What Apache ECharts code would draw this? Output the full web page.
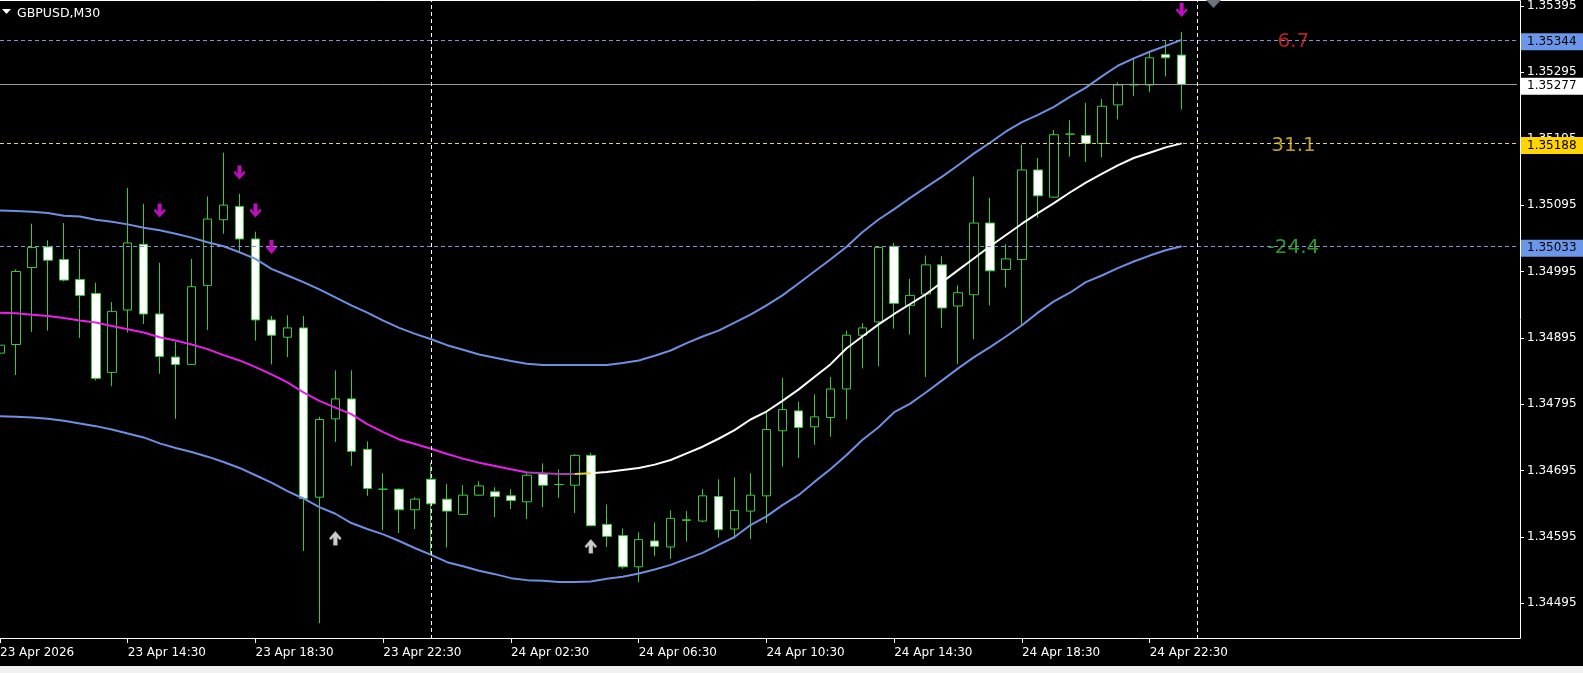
<!DOCTYPE html>
<html>
<head>
<meta charset="utf-8">
<script src="https://cdn.jsdelivr.net/npm/echarts@6/dist/echarts.min.js"></script>
<style>
html,body{margin:0;padding:0;background:#000;overflow:hidden;}
/* the first bar sits 3px left of the window edge, as in the terminal */
#chart{position:absolute;left:-3px;top:0;width:1586px;height:673px;}
</style>
</head>
<body>
<div id="chart"></div>
<script>
// ---- data (GBPUSD, M30) ----
const times = [
'23 Apr 10:30','23 Apr 11:00','23 Apr 11:30','23 Apr 12:00','23 Apr 12:30','23 Apr 13:00','23 Apr 13:30','23 Apr 14:00',
'23 Apr 14:30','23 Apr 15:00','23 Apr 15:30','23 Apr 16:00','23 Apr 16:30','23 Apr 17:00','23 Apr 17:30','23 Apr 18:00',
'23 Apr 18:30','23 Apr 19:00','23 Apr 19:30','23 Apr 20:00','23 Apr 20:30','23 Apr 21:00','23 Apr 21:30','23 Apr 22:00',
'23 Apr 22:30','23 Apr 23:00','23 Apr 23:30','24 Apr 00:00','24 Apr 00:30','24 Apr 01:00','24 Apr 01:30','24 Apr 02:00',
'24 Apr 02:30','24 Apr 03:00','24 Apr 03:30','24 Apr 04:00','24 Apr 04:30','24 Apr 05:00','24 Apr 05:30','24 Apr 06:00',
'24 Apr 06:30','24 Apr 07:00','24 Apr 07:30','24 Apr 08:00','24 Apr 08:30','24 Apr 09:00','24 Apr 09:30','24 Apr 10:00',
'24 Apr 10:30','24 Apr 11:00','24 Apr 11:30','24 Apr 12:00','24 Apr 12:30','24 Apr 13:00','24 Apr 13:30','24 Apr 14:00',
'24 Apr 14:30','24 Apr 15:00','24 Apr 15:30','24 Apr 16:00','24 Apr 16:30','24 Apr 17:00','24 Apr 17:30','24 Apr 18:00',
'24 Apr 18:30','24 Apr 19:00','24 Apr 19:30','24 Apr 20:00','24 Apr 20:30','24 Apr 21:00','24 Apr 21:30','24 Apr 22:00',
'24 Apr 22:30','24 Apr 23:00','24 Apr 23:30'
];
const futureSlots = 21;

const open = [
1.34872,1.34885,1.35001,1.35032,1.35013,1.34983,1.34962,1.34843,1.34937,1.35036,
1.34931,1.34866,1.34855,1.34974,1.35073,1.35093,1.35044,1.34922,1.34896,1.34910,
1.34655,1.34773,1.34803,1.34727,1.34667,1.34667,1.34636,1.34682,1.34652,1.34629,
1.34658,1.34663,1.34657,1.34648,1.34690,1.34674,1.34673,1.34718,1.34614,1.34597,
1.34550,1.34589,1.34580,1.34620,1.34619,1.34656,1.34607,1.34634,1.34657,1.34755,
1.34785,1.34761,1.34775,1.34818,1.34899,1.34919,1.35033,1.34944,1.34961,1.35005,
1.34943,1.34960,1.35068,1.34998,1.35013,1.35148,1.35107,1.35202,1.35200,1.35188,
1.35246,1.35276,1.35276,1.35322,1.35321];
const high = [
1.34894,1.34998,1.35067,1.35042,1.35068,1.35029,1.34978,1.34949,1.35121,1.35097,
1.35008,1.34889,1.35014,1.35108,1.35174,1.35112,1.35055,1.34928,1.34929,1.34928,
1.34776,1.34846,1.34846,1.34739,1.34691,1.34668,1.34655,1.34707,1.34675,1.34673,
1.34679,1.34670,1.34667,1.34691,1.34706,1.34697,1.34720,1.34722,1.34644,1.34608,
1.34602,1.34617,1.34635,1.34634,1.34667,1.34682,1.34685,1.34691,1.34784,1.34835,
1.34799,1.34810,1.34836,1.34906,1.34917,1.35033,1.35038,1.34984,1.35019,1.35018,
1.34974,1.35138,1.35106,1.35036,1.35186,1.35166,1.35208,1.35223,1.35249,1.35255,
1.35280,1.35317,1.35326,1.35344,1.35356];
const low = [
1.34861,1.34839,1.34904,1.34906,1.34980,1.34895,1.34831,1.34822,1.34903,1.34916,
1.34841,1.34773,1.34854,1.34907,1.35052,1.35023,1.34891,1.34855,1.34866,1.34574,
1.34465,1.34738,1.34702,1.34657,1.34605,1.34601,1.34607,1.34569,1.34579,1.34628,
1.34657,1.34625,1.34637,1.34622,1.34640,1.34654,1.34631,1.34611,1.34580,1.34547,
1.34527,1.34566,1.34562,1.34588,1.34617,1.34594,1.34593,1.34592,1.34616,1.34701,
1.34714,1.34734,1.34746,1.34772,1.34849,1.34852,1.34909,1.34900,1.34836,1.34910,
1.34856,1.34893,1.34944,1.34971,1.34913,1.35076,1.35106,1.35168,1.35160,1.35167,
1.35224,1.35259,1.35265,1.35289,1.35239];
const close = [
1.34884,1.34995,1.35031,1.35012,1.34982,1.34959,1.34834,1.34935,1.35038,1.34931,
1.34867,1.34855,1.34972,1.35074,1.35095,1.35044,1.34922,1.34899,1.34910,1.34653,
1.34772,1.34803,1.34724,1.34668,1.34667,1.34636,1.34652,1.34645,1.34634,1.34658,
1.34672,1.34656,1.34650,1.34688,1.34673,1.34674,1.34718,1.34612,1.34596,1.34550,
1.34591,1.34581,1.34623,1.34621,1.34657,1.34606,1.34635,1.34658,1.34757,1.34787,
1.34760,1.34776,1.34818,1.34899,1.34910,1.35031,1.34947,1.34959,1.35005,1.34940,
1.34963,1.35068,1.34996,1.35014,1.35148,1.35109,1.35201,1.35202,1.35188,1.35244,
1.35276,1.35277,1.35317,1.35317,1.35277];

const bandMid = [
1.34933,1.34932,1.34930,1.34928,1.34925,1.34921,1.34918,1.34913,1.34908,1.34903,
1.34896,1.34891,1.34885,1.34878,1.34869,1.34861,1.34851,1.34840,1.34828,1.34813,
1.34800,1.34790,1.34780,1.34765,1.34753,1.34742,1.34735,1.34728,1.34720,1.34713,
1.34707,1.34702,1.34697,1.34692,1.34691,1.34690,1.34690,1.34691,1.34693,1.34696,
1.34699,1.34704,1.34711,1.34721,1.34731,1.34743,1.34756,1.34772,1.34784,1.34800,
1.34817,1.34836,1.34855,1.34879,1.34897,1.34915,1.34931,1.34946,1.34961,1.34979,
1.34997,1.35015,1.35033,1.35050,1.35067,1.35083,1.35098,1.35114,1.35129,1.35142,
1.35155,1.35166,1.35174,1.35182,1.35188];
const bandUpper = [
1.35087,1.35086,1.35085,1.35083,1.35079,1.35078,1.35073,1.35070,1.35066,1.35061,
1.35057,1.35052,1.35046,1.35039,1.35033,1.35024,1.35014,1.34999,1.34989,1.34979,
1.34968,1.34956,1.34944,1.34933,1.34921,1.34910,1.34901,1.34893,1.34884,1.34877,
1.34870,1.34865,1.34860,1.34856,1.34854,1.34854,1.34854,1.34854,1.34854,1.34857,
1.34861,1.34868,1.34876,1.34887,1.34897,1.34906,1.34918,1.34930,1.34944,1.34959,
1.34977,1.34995,1.35013,1.35032,1.35054,1.35073,1.35089,1.35106,1.35122,1.35138,
1.35155,1.35173,1.35189,1.35206,1.35220,1.35231,1.35243,1.35258,1.35272,1.35289,
1.35305,1.35316,1.35326,1.35335,1.35344];
const bandLower = [
1.34777,1.34776,1.34775,1.34773,1.34770,1.34766,1.34762,1.34757,1.34751,1.34745,
1.34736,1.34729,1.34723,1.34716,1.34708,1.34699,1.34688,1.34677,1.34664,1.34653,
1.34640,1.34630,1.34616,1.34607,1.34599,1.34589,1.34578,1.34568,1.34557,1.34551,
1.34544,1.34539,1.34533,1.34530,1.34529,1.34527,1.34527,1.34528,1.34532,1.34535,
1.34540,1.34546,1.34553,1.34562,1.34571,1.34583,1.34595,1.34613,1.34626,1.34643,
1.34658,1.34678,1.34697,1.34718,1.34741,1.34760,1.34783,1.34796,1.34813,1.34831,
1.34849,1.34866,1.34881,1.34897,1.34914,1.34933,1.34950,1.34963,1.34979,1.34989,
1.35000,1.35010,1.35019,1.35027,1.35033];
// middle line colour segments (bar index where each colour ends)
const midFallEnd = 33, midFlatEnd = 36, midTurnEnd = 37;

const sellArrows = [[10,1.35087],[15,1.35144],[16,1.35087],[17,1.35032],[74,1.35389]];
const buyArrows  = [[21,1.34593],[37,1.34581]];

const yTicks = [1.34495,1.34595,1.34695,1.34795,1.34895,1.34995,1.35095,1.35195,1.35295,1.35395];
const tickLabels = {
 '23 Apr 10:30':'23 Apr 2026','23 Apr 14:30':'23 Apr 14:30','23 Apr 18:30':'23 Apr 18:30',
 '23 Apr 22:30':'23 Apr 22:30','24 Apr 02:30':'24 Apr 02:30','24 Apr 06:30':'24 Apr 06:30',
 '24 Apr 10:30':'24 Apr 10:30','24 Apr 14:30':'24 Apr 14:30','24 Apr 18:30':'24 Apr 18:30',
 '24 Apr 22:30':'24 Apr 22:30'
};
const daySeparators = ['24 Apr 00:00','25 Apr 00:00'];

const levelPrices = [1.35344, 1.35277, 1.35188, 1.35033];
const levelTexts  = ['6.7', null, '31.1', '-24.4'];
const levelTextColors = ['#e42b2b', null, '#f3c431', '#3cbc3c'];
const levelTextSlot = 81;

// ---- build ----
const SHIFT = 3; // chart div starts 3px left of the page
const categories = times.slice();
for (let k = 0; k < futureSlots; k++) {
  const h = Math.floor(k / 2), m = k % 2 ? '30' : '00';
  categories.push('25 Apr ' + String(h).padStart(2, '0') + ':' + m);
}
const LIME = '#3cc83c';
const FONT = 'DejaVu Sans';
const candles = open.map((o, i) => [o, close[i], low[i], high[i]]);
const seg = (a, b) => bandMid.map((v, i) => (i >= a && i <= b) ? v : null);

const levelStyles = [
  {line: {color: '#8592da', type: [4, 3], width: 1}, bg: '#6b97ea'},
  {line: {color: '#9a9a9a', type: 'solid', width: 1}, bg: '#ffffff'},
  {line: {color: '#e3d27a', type: [4, 3], width: 1}, bg: '#ffd400'},
  {line: {color: '#8592da', type: [4, 3], width: 1}, bg: '#6b97ea'}
];
const markData = levelPrices.map((p, i) => ({
  yAxis: p,
  lineStyle: levelStyles[i].line,
  label: {
    show: true, position: 'end', distance: 4,
    formatter: q => Number(q.value).toFixed(5),
    backgroundColor: levelStyles[i].bg, color: '#000',
    fontFamily: FONT, fontSize: 12, lineHeight: 14, padding: [2, 8, 1, 6], offset: [0, 2]
  }
})).concat(daySeparators.map(d => ({
  xAxis: d,
  lineStyle: {color: '#ffffff', type: [4, 3], width: 1},
  label: {show: false}
})));

const textData = [];
levelPrices.forEach((p, i) => {
  if (levelTexts[i]) textData.push({
    value: [levelTextSlot, p],
    label: {show: true, position: 'inside', formatter: levelTexts[i], offset: [0, 2],
             color: levelTextColors[i], fontSize: 20, fontFamily: FONT}
  });
});

const arrowPath = 'path://M4,0L8,0L8,7L10.5,4.5L12,6L6,12L0,6L1.5,4.5L4,7Z';

const chart = echarts.init(document.getElementById('chart'), null, {renderer: 'canvas'});
chart.setOption({
  animation: false,
  backgroundColor: '#000000',
  title: {
    text: 'GBPUSD,M30', left: 17 + SHIFT, top: 7, padding: 0,
    textStyle: {color: '#ffffff', fontSize: 12.5, fontWeight: 'normal', fontFamily: FONT}
  },
  grid: {left: 0, top: 0, width: 1520, height: 639, containLabel: false},
  xAxis: {
    type: 'category', data: categories, boundaryGap: false,
    axisLine: {show: false},
    axisTick: {show: true, length: 4, lineStyle: {color: '#ffffff'},
               interval: (i, v) => tickLabels[v] !== undefined},
    axisLabel: {color: '#ffffff', fontFamily: FONT, fontSize: 12, align: 'left', margin: 8,
                interval: (i, v) => tickLabels[v] !== undefined,
                formatter: v => tickLabels[v] || ''},
    splitLine: {show: false}
  },
  yAxis: {
    type: 'value', position: 'right', offset: 3,
    min: 1.344413, max: 1.354028,
    axisLine: {show: false},
    axisTick: {show: true, length: 4, lineStyle: {color: '#ffffff'}, customValues: yTicks},
    axisLabel: {color: '#ffffff', fontFamily: FONT, fontSize: 12, margin: 7,
                customValues: yTicks, formatter: v => v.toFixed(5)},
    splitLine: {show: false}
  },
  series: [
    {
      type: 'candlestick', data: candles, barWidth: 9, z: 2,
      itemStyle: {color: '#000000', color0: '#ffffff', borderColor: LIME, borderColor0: LIME,
                  borderColorDoji: LIME, borderWidth: 1}
    },
    {type: 'line', data: bandUpper, symbol: 'none', z: 3, lineStyle: {color: '#6f8fe2', width: 2}},
    {type: 'line', data: bandLower, symbol: 'none', z: 3, lineStyle: {color: '#6f8fe2', width: 2}},
    {type: 'line', data: seg(0, midFallEnd), symbol: 'none', z: 3, lineStyle: {color: '#ea1eea', width: 2}},
    {type: 'line', data: seg(midFallEnd, midFlatEnd), symbol: 'none', z: 3, lineStyle: {color: '#a83cb0', width: 2}},
    {type: 'line', data: seg(midFlatEnd, midTurnEnd), symbol: 'none', z: 3, lineStyle: {color: '#e2d23c', width: 2}},
    {type: 'line', data: seg(midTurnEnd, bandMid.length - 1), symbol: 'none', z: 3, lineStyle: {color: '#ffffff', width: 2}},
    {type: 'scatter', data: sellArrows, symbol: arrowPath, symbolSize: [12, 14], z: 4,
     itemStyle: {color: '#f010f0'}},
    {type: 'scatter', data: buyArrows, symbol: arrowPath, symbolSize: [12, 14], symbolRotate: 180, z: 4,
     itemStyle: {color: '#ffffff', borderColor: '#9aa0b0', borderWidth: 0.5}},
    {
      type: 'scatter', data: textData, symbolSize: 1, z: 6, itemStyle: {color: 'rgba(0,0,0,0)'},
      markLine: {silent: true, precision: 5, symbol: ['none', 'none'], data: markData, z: 6}
    }
  ],
  graphic: [
    {type: 'polyline', z: 10, silent: true,
     shape: {points: [[0, 0.5], [1520.5 + SHIFT, 0.5], [1520.5 + SHIFT, 638.5], [0, 638.5]]},
     style: {stroke: '#ffffff', lineWidth: 1, fill: null}},
    {type: 'polygon', z: 10, silent: true,
     shape: {points: [[2 + SHIFT, 9], [11 + SHIFT, 9], [6.5 + SHIFT, 14]]}, style: {fill: '#ffffff'}},
    {type: 'polygon', z: 10, silent: true,
     shape: {points: [[1206 + SHIFT, 0], [1221 + SHIFT, 0], [1213.5 + SHIFT, 8]]}, style: {fill: '#6c737c'}},
    {type: 'rect', z: 10, silent: true,
     shape: {x: 0, y: 666, width: 1586, height: 7}, style: {fill: '#f0f0f0'}}
  ]
});
</script>
</body>
</html>
